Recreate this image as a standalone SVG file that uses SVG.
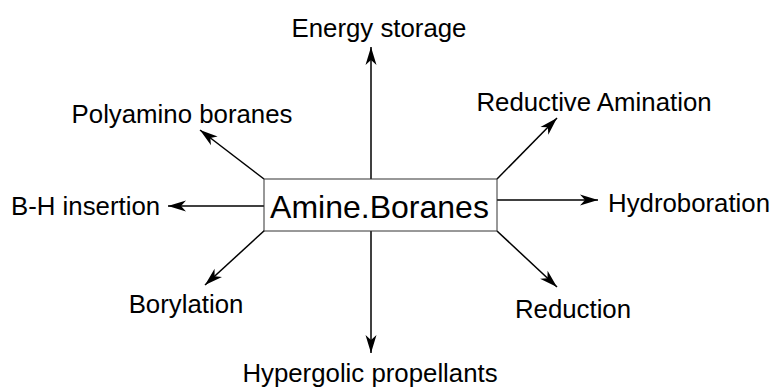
<svg xmlns="http://www.w3.org/2000/svg" width="772" height="387" viewBox="0 0 772 387">
  <defs>
    <marker id="ah" markerUnits="userSpaceOnUse" markerWidth="20" markerHeight="12" refX="18" refY="5.5" orient="auto" overflow="visible">
      <path d="M0,0 L18,5.5 L0,11 L5,5.5 z" fill="#000"/>
    </marker>
  </defs>
  <style>
    .lbl { font-family: "Liberation Sans", Arial, sans-serif; font-size: 25.8px; fill: #000; }
    .main { font-family: "Liberation Sans", Arial, sans-serif; font-size: 32px; fill: #000; }
    .conn line { stroke: #000; stroke-width: 1.5; marker-end: url(#ah); }
  </style>
  <rect width="772" height="387" fill="#fff"/>
  <g id="connectors" class="conn">
    <line x1="371" y1="179" x2="371" y2="47"/>
    <line x1="371" y1="231" x2="371" y2="353"/>
    <line x1="264" y1="206" x2="168" y2="206"/>
    <line x1="497" y1="200" x2="598" y2="200"/>
    <line x1="264" y1="179" x2="200" y2="130"/>
    <line x1="265" y1="230" x2="205" y2="285"/>
    <line x1="497" y1="179" x2="557" y2="118"/>
    <line x1="497" y1="231" x2="557" y2="287"/>
  </g>
  <g id="center">
    <rect x="264" y="179" width="233" height="52" fill="#fff" stroke="#333" stroke-width="1"/>
    <text class="main" x="379.5" y="218" text-anchor="middle">Amine.Boranes</text>
  </g>
  <g id="energy"><text class="lbl" x="379" y="37" text-anchor="middle">Energy storage</text></g>
  <g id="polyamino"><text class="lbl" x="182" y="123" text-anchor="middle">Polyamino boranes</text></g>
  <g id="reductive"><text class="lbl" x="594" y="111" text-anchor="middle">Reductive Amination</text></g>
  <g id="bh"><text class="lbl" x="11" y="215">B-H insertion</text></g>
  <g id="hydro"><text class="lbl" x="608" y="212">Hydroboration</text></g>
  <g id="borylation"><text class="lbl" x="186" y="313" text-anchor="middle">Borylation</text></g>
  <g id="reduction"><text class="lbl" x="573" y="318" text-anchor="middle">Reduction</text></g>
  <g id="hypergolic"><text class="lbl" x="370" y="382" text-anchor="middle">Hypergolic propellants</text></g>
</svg>
